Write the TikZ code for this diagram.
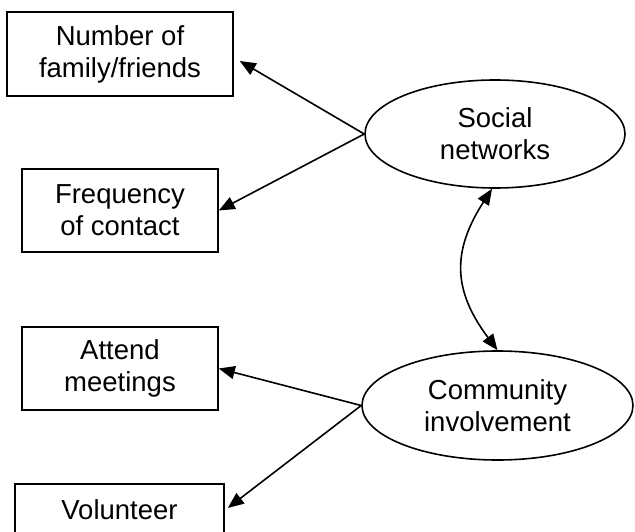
\documentclass[tikz,border=0pt]{standalone}
\usepackage{fontspec}
\setmainfont{Liberation Sans}
\usetikzlibrary{shapes.geometric,arrows.meta}
\begin{document}
\begin{tikzpicture}[x=1pt,y=-1pt,
  lbl/.style={font=\fontsize{27.5}{32}\selectfont},
  box/.style={lbl,draw,line width=1.6pt,rectangle,inner sep=0pt,align=center},
  ell/.style={lbl,draw,line width=1.6pt,ellipse,inner sep=0pt,align=center},
  tip/.style={Triangle[length=16pt,width=13pt]},
  arr/.style={line width=1.6pt,-{Triangle[length=16pt,width=13pt]}},
  darr/.style={line width=1.6pt,{Triangle[length=16pt,width=13pt]}-{Triangle[length=16pt,width=13pt]}}]
\clip (0,0) rectangle (635,532);
\node[box,minimum width=226pt,minimum height=84pt] (nf) at (120,54) {Number of\\family/friends};
\node[box,minimum width=196pt,minimum height=83pt] (fc) at (120,210.5) {Frequency\\of contact};
\node[box,minimum width=196pt,minimum height=83pt] (am) at (120,368.5) {Attend\\meetings};
\node[box,minimum width=209pt,minimum height=84pt] (vo) at (119.5,526) {Volunteer\\\phantom{x}};
\node[ell,minimum width=260pt,minimum height=108pt] (sn) at (495,134) {Social\\networks};
\node[ell,minimum width=271pt,minimum height=109pt] (ci) at (497.5,405.5) {Community\\involvement};
\draw[arr] (sn.west) -- ([shift={(6,7)}]nf.east);
\draw[arr] (sn.west) -- (fc.east);
\draw[arr] (ci.west) -- (am.east);
\draw[arr] (ci.west) -- ([shift={(3,-18)}]vo.east);
\draw[darr] ([xshift=-3pt]sn.south) .. controls +(-40,62) and +(-45,-60) .. (ci.north);
\end{tikzpicture}
\end{document}
